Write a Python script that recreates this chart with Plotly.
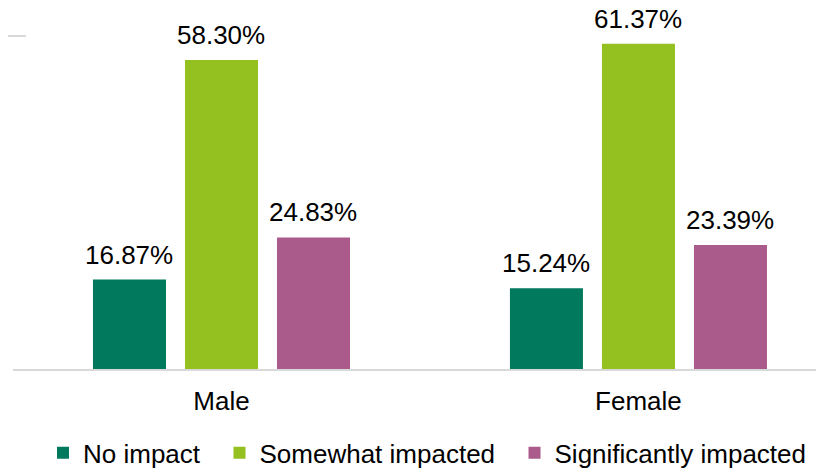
import plotly.graph_objects as go

categories = ["Male", "Female"]
series_names = ["No impact", "Somewhat impacted", "Significantly impacted"]
no_impact = [16.87, 15.24]
somewhat = [58.30, 61.37]
significantly = [24.83, 23.39]
colors = ["#00795C", "#94C11F", "#AA5A8B"]

values = [no_impact, somewhat, significantly]
FONT = "Liberation Sans, Arial"
BARGAP = 0.338
GROUPGAP = 0.2065
slot = (1 - BARGAP) / len(values)

fig = go.Figure()
pad = ["\u00a0\u00a0", "\u00a0\u00a0", ""]
for k, (name, vals, col) in enumerate(zip(series_names, values, colors)):
    fig.add_trace(go.Bar(
        x=categories, y=vals, name=name + pad[k],
        marker=dict(color=col, line=dict(width=0)),
        cliponaxis=False,
    ))
    off = (k - (len(values) - 1) / 2) * slot
    for i, v in enumerate(vals):
        fig.add_annotation(x=i + off, y=v, xref="x", yref="y", text=f"{v:.2f}%",
                           showarrow=False, yanchor="bottom", yshift=8,
                           font=dict(family=FONT, size=26, color="#000000"))

fig.update_layout(
    width=816, height=464,
    margin=dict(l=5, r=0, t=28, b=103, autoexpand=False),
    paper_bgcolor="white", plot_bgcolor="white",
    barmode="group", bargap=BARGAP, bargroupgap=GROUPGAP,
    font=dict(family=FONT, color="#000000"),
    xaxis=dict(range=[-0.5, 1.445], showline=True, linecolor="#D9D9D9", linewidth=2,
               ticks="", tickfont=dict(size=26), showgrid=False, ticklabelstandoff=8),
    yaxis=dict(range=[0, 62.83], visible=False, showgrid=False, zeroline=False),
    legend=dict(orientation="h", x=0.037, xanchor="left", y=-0.252, yanchor="middle",
                font=dict(size=26), traceorder="normal", itemclick=False),
    showlegend=True,
)
fig.add_shape(type="line", xref="paper", yref="paper", x0=-13/811, x1=13/811, y0=1, y1=1,
              line=dict(color="#D9D9D9", width=2))

fig.write_html("out.html")
